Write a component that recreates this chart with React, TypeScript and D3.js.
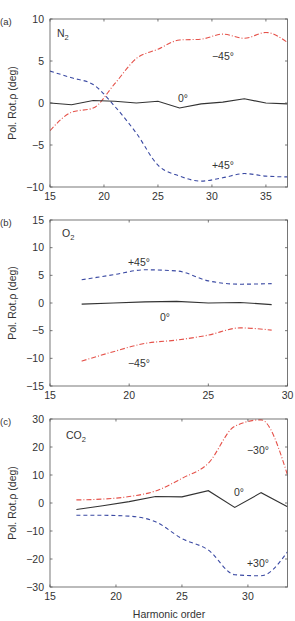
import { useEffect, useRef } from "react"
import * as d3 from "d3"

// (a) N2
const harmA = [15, 17, 19, 21, 23, 25, 27, 29, 31, 33, 35, 37]
const zeroA = [0, -0.2, 0.3, 0.2, 0, 0.2, -0.6, -0.1, 0.1, 0.5, 0, -0.1]
const minus45A = [-3.3, -1.1, -0.6, 2.3, 5.3, 6.4, 7.5, 7.6, 8.2, 7.7, 8.4, 7.2]
const plus45A = [3.8, 3.0, 2.2, -0.4, -3.6, -7.4, -8.7, -9.3, -8.9, -8.4, -8.7, -8.8]

// (b) O2
const harmB = [17, 19, 21, 23, 25, 27, 29]
const zeroB = [-0.2, 0, 0.2, 0.3, 0, 0.1, -0.3]
const plus45B = [4.2, 5.1, 6.0, 5.8, 4.0, 3.4, 3.5]
const minus45B = [-10.5, -8.8, -7.3, -6.7, -5.8, -4.5, -4.9]

// (c) CO2
const harmC = [17, 19, 21, 23, 25, 27, 29, 31, 33]
const zeroC = [-2.3, -1.0, 0.5, 2.3, 2.2, 4.4, -1.6, 3.7, -1.3]
const minus30C = [1.1, 1.4, 2.3, 4.3, 8.8, 14.2, 27.4, 29.7, 10]
const plus30C = [-4.4, -4.4, -4.7, -6.7, -12.7, -16.8, -25.6, -26, -17.4]

const BLUE = "#3b4aa3"
const RED = "#e5524a"
const BLACK = "#333"
const FONT = "Liberation Sans, Arial, sans-serif"

type Series = { x: number[]; y: number[]; color: string; dash: string; smooth: boolean }
type Label = { text: string; x: number; y: number; sub?: string }

type Panel = {
  tag: string
  top: number
  bottom: number
  xDomain: [number, number]
  xTicks: number[]
  yDomain: [number, number]
  yTicks: number[]
  series: Series[]
  labels: Label[]
}

const panels: Panel[] = [
  {
    tag: "(a)", top: 19, bottom: 187,
    xDomain: [15, 37], xTicks: [15, 20, 25, 30, 35],
    yDomain: [-10, 10], yTicks: [-10, -5, 0, 5, 10],
    series: [
      { x: harmA, y: minus45A, color: RED, dash: "5,2,1,2", smooth: true },
      { x: harmA, y: plus45A, color: BLUE, dash: "4,3", smooth: true },
      { x: harmA, y: zeroA, color: BLACK, dash: "", smooth: false },
    ],
    labels: [
      { text: "N", sub: "2", x: 57, y: 37 },
      { text: "−45°", x: 223, y: 60 },
      { text: "0°", x: 183, y: 102 },
      { text: "+45°", x: 223, y: 169 },
    ],
  },
  {
    tag: "(b)", top: 220, bottom: 386,
    xDomain: [15, 30], xTicks: [15, 20, 25, 30],
    yDomain: [-15, 15], yTicks: [-15, -10, -5, 0, 5, 10, 15],
    series: [
      { x: harmB, y: minus45B, color: RED, dash: "5,2,1,2", smooth: true },
      { x: harmB, y: plus45B, color: BLUE, dash: "4,3", smooth: true },
      { x: harmB, y: zeroB, color: BLACK, dash: "", smooth: false },
    ],
    labels: [
      { text: "O", sub: "2", x: 62, y: 237 },
      { text: "+45°", x: 139, y: 266 },
      { text: "0°", x: 165, y: 321 },
      { text: "−45°", x: 139, y: 367 },
    ],
  },
  {
    tag: "(c)", top: 419, bottom: 587,
    xDomain: [15, 33], xTicks: [15, 20, 25, 30],
    yDomain: [-30, 30], yTicks: [-30, -20, -10, 0, 10, 20, 30],
    series: [
      { x: harmC, y: minus30C, color: RED, dash: "5,2,1,2", smooth: true },
      { x: harmC, y: plus30C, color: BLUE, dash: "4,3", smooth: true },
      { x: harmC, y: zeroC, color: BLACK, dash: "", smooth: false },
    ],
    labels: [
      { text: "CO", sub: "2", x: 66, y: 439 },
      { text: "−30°", x: 258, y: 454 },
      { text: "0°", x: 239, y: 496 },
      { text: "+30°", x: 258, y: 567 },
    ],
  },
]

function App() {
  const ref = useRef<SVGSVGElement>(null)

  useEffect(() => {
    const svg = d3.select(ref.current)
    svg.selectAll("*").remove()
    const left = 50
    const right = 287.5

    for (const p of panels) {
      const x = d3.scaleLinear().domain(p.xDomain).range([left, right])
      const y = d3.scaleLinear().domain(p.yDomain).range([p.bottom, p.top])
      const g = svg.append("g")

      // lines, clipped to the frame
      const clipId = "clip" + p.tag.replace(/\W/g, "")
      svg.append("clipPath").attr("id", clipId)
        .append("rect").attr("x", left).attr("y", p.top)
        .attr("width", right - left).attr("height", p.bottom - p.top)

      for (const s of p.series) {
        const pts = s.x.map((v, i) => [v, s.y[i]] as [number, number])
        const line = d3.line<[number, number]>()
          .x(d => x(d[0])).y(d => y(d[1]))
          .curve(s.smooth ? d3.curveMonotoneX : d3.curveLinear)
        g.append("path")
          .attr("d", line(pts))
          .attr("fill", "none")
          .attr("stroke", s.color)
          .attr("stroke-width", s.smooth ? 1.1 : 1.1)
          .attr("stroke-dasharray", s.dash || null)
          .attr("clip-path", `url(#${clipId})`)
      }

      // frame
      g.append("rect")
        .attr("x", left).attr("y", p.top)
        .attr("width", right - left).attr("height", p.bottom - p.top)
        .attr("fill", "none").attr("stroke", "#555").attr("stroke-width", 0.8)

      // inward ticks
      const tl = 2.5
      for (const t of p.xTicks) {
        g.append("line").attr("x1", x(t)).attr("x2", x(t)).attr("y1", p.bottom).attr("y2", p.bottom - tl)
          .attr("stroke", "#555").attr("stroke-width", 0.8)
        g.append("line").attr("x1", x(t)).attr("x2", x(t)).attr("y1", p.top).attr("y2", p.top + tl)
          .attr("stroke", "#555").attr("stroke-width", 0.8)
        g.append("text").attr("x", x(t)).attr("y", p.bottom + 12.5)
          .attr("text-anchor", "middle").attr("font-size", 10.5).attr("font-family", FONT).attr("fill", "#333")
          .text(t)
      }
      for (const t of p.yTicks) {
        g.append("line").attr("x1", left).attr("x2", left + tl).attr("y1", y(t)).attr("y2", y(t))
          .attr("stroke", "#555").attr("stroke-width", 0.8)
        g.append("line").attr("x1", right).attr("x2", right - tl).attr("y1", y(t)).attr("y2", y(t))
          .attr("stroke", "#555").attr("stroke-width", 0.8)
        g.append("text").attr("x", 44).attr("y", y(t)).attr("dy", "0.35em")
          .attr("text-anchor", "end").attr("font-size", 10.5).attr("font-family", FONT).attr("fill", "#333")
          .text(t < 0 ? "−" + Math.abs(t) : String(t))
      }

      // panel tag
      g.append("text").attr("x", 0).attr("y", p.top + 6)
        .attr("font-size", 9.5).attr("font-family", FONT).attr("fill", "#333").text(p.tag)

      // y label
      g.append("text")
        .attr("transform", `translate(16, ${(p.top + p.bottom) / 2}) rotate(-90)`)
        .attr("text-anchor", "middle").attr("font-size", 10.5).attr("font-family", FONT).attr("fill", "#333")
        .text("Pol. Rot.ρ (deg)")

      // annotations
      for (const l of p.labels) {
        const t = g.append("text").attr("x", l.x).attr("y", l.y)
          .attr("text-anchor", l.sub ? "start" : "middle")
          .attr("font-size", 10.5).attr("font-family", FONT).attr("fill", "#333")
          .text(l.text)
        if (l.sub) {
          t.append("tspan").attr("dy", 3).attr("font-size", 7.5).text(l.sub)
        }
      }
    }

    svg.append("text").attr("x", 169).attr("y", 618)
      .attr("text-anchor", "middle").attr("font-size", 10.5).attr("font-family", FONT).attr("fill", "#333")
      .text("Harmonic order")
  })

  return (
    <svg ref={ref} width="295" height="621"
      style={{ position: "absolute", left: 0, top: 0, background: "#fff" }}></svg>
  )
}

export default App
